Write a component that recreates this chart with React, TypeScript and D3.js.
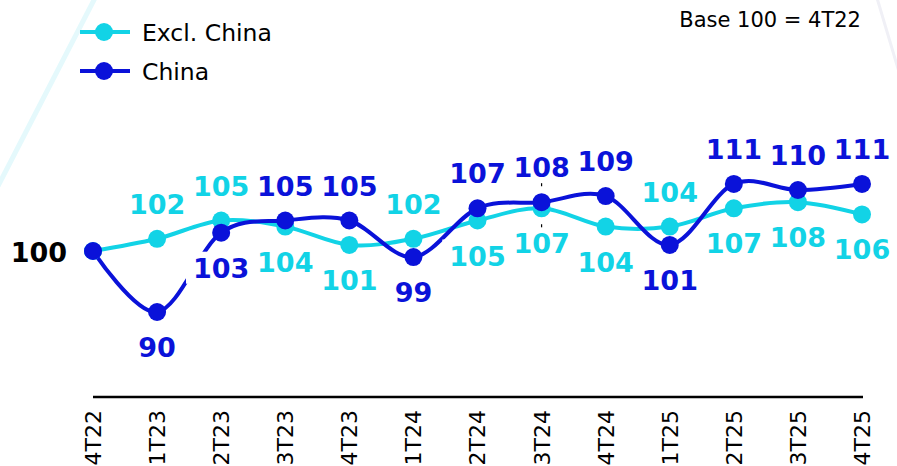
import React from 'react';
import * as d3 from 'd3';

// Quarterly index, base 100 = 4T22
const quarters = ['4T22', '1T23', '2T23', '3T23', '4T23', '1T24', '2T24', '3T24', '4T24', '1T25', '2T25', '3T25', '4T25'];
const exclChina = [100, 102, 105, 104, 101, 102, 105, 107, 104, 104, 107, 108, 106];
const china = [100, 90, 103, 105, 105, 99, 107, 108, 109, 101, 111, 110, 111];

// Where each value label sits relative to its point
const exclChinaLabelSide = [null, 'above', 'above', 'below', 'below', 'above', 'below', 'below', 'below', 'above', 'below', 'below', 'below'];
const chinaLabelSide = [null, 'below', 'below', 'above', 'above', 'below', 'above', 'above', 'above', 'below', 'above', 'above', 'above'];

const seriesNames = ['Excl. China', 'China'];
const baseNote = 'Base 100 = 4T22';
const markedQuarter = '3T24';

const CYAN = '#12d3e6';
const BLUE = '#0a12d9';
const FONT = "'DejaVu Sans', Verdana, sans-serif";

const W = 897;
const H = 466;

export default function App() {
  const x = d3.scalePoint<string>().domain(quarters).range([93, 862]);
  const y = d3.scaleLinear().domain([76, 120]).range([397.4, 129]);

  const line = d3
    .line<number>()
    .x((_, i) => x(quarters[i]) as number)
    .y((d) => y(d))
    .curve(d3.curveCatmullRom.alpha(0));

  const labelSize = 27;
  const digitW = 0.696 * labelSize;

  const renderLabels = (values: number[], sides: (string | null)[], color: string, key: string) =>
    values.map((v, i) => {
      const side = sides[i];
      if (!side) return null;
      const cx = x(quarters[i]) as number;
      const py = y(v);
      const baseline = side === 'above' ? py - 25 : py + 45;
      const text = String(v);
      const tw = text.length * digitW;
      return (
        <g key={`${key}-${i}`}>
          <rect x={cx - tw / 2 - 7} y={baseline - 26} width={tw + 14} height={32} fill="#fff" />
          <text
            x={cx}
            y={baseline}
            textAnchor="middle"
            fontFamily={FONT}
            fontWeight="bold"
            fontSize={labelSize}
            fill={color}
          >
            {text}
          </text>
        </g>
      );
    });

  const mi = quarters.indexOf(markedQuarter);
  const mx = x(markedQuarter) as number;

  return (
    <svg width={W} height={H} style={{ position: 'absolute', left: 0, top: 0, background: '#fff' }}>
      {/* faint decorative strokes */}
      <line x1={95} y1={-2} x2={-2} y2={186} stroke="#e5f9fc" strokeWidth={5} />
      <line x1={877} y1={-2} x2={899} y2={72} stroke="#f0f0f6" strokeWidth={3} />

      {/* legend */}
      {seriesNames.map((name, i) => {
        const ly = i === 0 ? 32 : 71;
        const col = i === 0 ? CYAN : BLUE;
        return (
          <g key={name}>
            <line x1={80} x2={130} y1={ly} y2={ly} stroke={col} strokeWidth={4} />
            <circle cx={104} cy={ly} r={9} fill={col} />
            <text x={142} y={ly + 9} fontFamily={FONT} fontSize={23.5} fill="#000">
              {name}
            </text>
          </g>
        );
      })}

      <text x={861} y={27} textAnchor="end" fontFamily={FONT} fontSize={21} fill="#000">
        {baseNote}
      </text>

      {/* x axis */}
      <line x1={93} x2={863} y1={397} y2={397} stroke="#000" strokeWidth={2.5} />
      {quarters.map((q) => (
        <text
          key={q}
          transform={`translate(${x(q)},410) rotate(-90)`}
          textAnchor="end"
          dy="0.36em"
          fontFamily={FONT}
          fontSize={22}
          fill="#000"
        >
          {q}
        </text>
      ))}

      {/* marker at the highlighted quarter */}
      <line
        x1={mx}
        x2={mx}
        y1={y(china[mi]) - 20}
        y2={y(exclChina[mi]) + 22}
        stroke="#000"
        strokeWidth={1.2}
        strokeDasharray="4,17"
      />

      {/* series lines */}
      <path d={line(exclChina) ?? ''} fill="none" stroke={CYAN} strokeWidth={4} />
      <path d={line(china) ?? ''} fill="none" stroke={BLUE} strokeWidth={4} />

      {/* value labels */}
      {renderLabels(exclChina, exclChinaLabelSide, CYAN, 'ex')}
      {renderLabels(china, chinaLabelSide, BLUE, 'cn')}
      <text
        x={67}
        y={y(china[0]) + 11}
        textAnchor="end"
        fontFamily={FONT}
        fontWeight="bold"
        fontSize={labelSize}
        fill="#000"
      >
        {china[0]}
      </text>

      {/* points */}
      {exclChina.map((v, i) => (
        <circle key={`pe-${i}`} cx={x(quarters[i])} cy={y(v)} r={9} fill={CYAN} />
      ))}
      {china.map((v, i) => (
        <circle key={`pc-${i}`} cx={x(quarters[i])} cy={y(v)} r={9} fill={BLUE} />
      ))}
    </svg>
  );
}
